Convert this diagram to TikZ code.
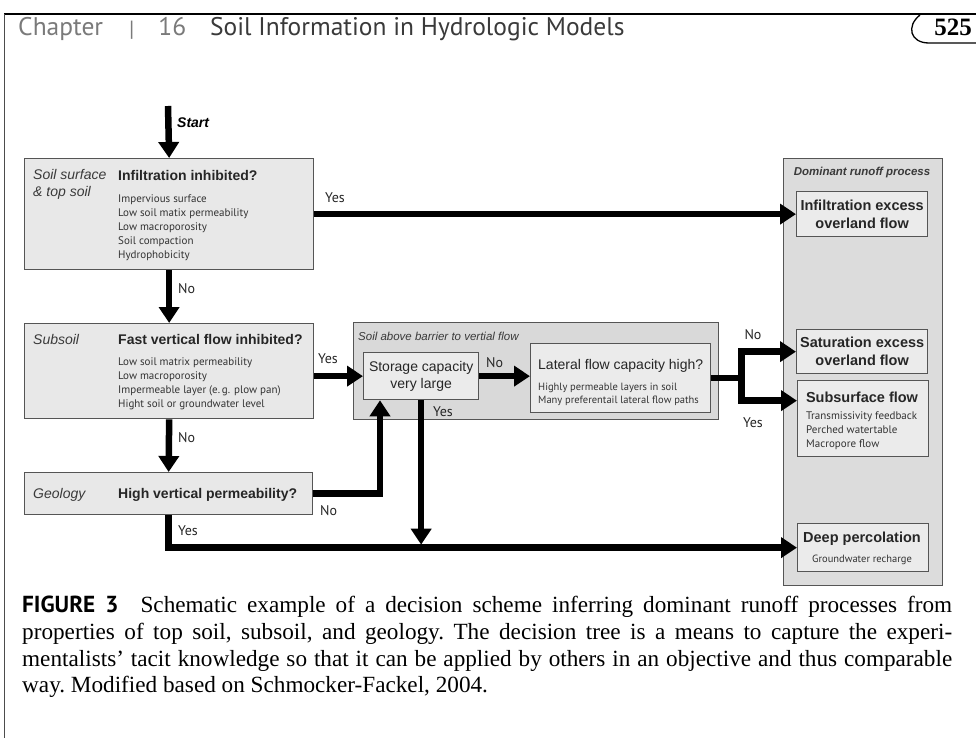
\documentclass[tikz,border=0pt]{standalone}
\usepackage{fontspec}
\setmainfont{Liberation Serif}
\newfontfamily\hdrfont{PT Sans}
\newfontfamily\arfont{Liberation Sans}
\newfontfamily\myfont{PT Sans}
\usetikzlibrary{arrows.meta}

\definecolor{bord}{HTML}{555555}
\definecolor{fillA}{HTML}{E8E8E8}
\definecolor{fillB}{HTML}{D9D9D9}
\definecolor{fillC}{HTML}{EBEBEB}
\definecolor{colfill}{HTML}{DCDCDC}
\definecolor{hgrey}{HTML}{7A7A7A}
\definecolor{hdark}{HTML}{3A3A3A}

\tikzset{
  box/.style={draw=bord, line width=1.3pt, inner sep=0pt, anchor=north west, fill=fillA},
  arr/.style={line width=6.5pt, -{Triangle[length=16pt,width=20pt]}},
  ln/.style={line width=6.5pt},
  cat/.style={inner sep=0pt, anchor=base west, font=\arfont\itshape\fontsize{14}{17}\selectfont, text=hdark, align=left},
  quest/.style={inner sep=0pt, anchor=base west, font=\arfont\bfseries\fontsize{14}{17}\selectfont, text=black!85},
  items/.style={inner sep=0pt, anchor=north west, font=\myfont\fontsize{11}{13.9}\selectfont, text=black!80, align=left},
  lbl/.style={inner sep=0pt, anchor=base west, font=\myfont\fontsize{14}{17}\selectfont, text=black!85},
  outbox/.style={box, fill=fillC, align=center, font=\arfont\bfseries\fontsize{14.5}{18}\selectfont, text=black!85},
}

\begin{document}
\begin{tikzpicture}[x=1pt,y=-1pt]
\useasboundingbox (0,0) rectangle (976,738);
\fill[white] (0,0) rectangle (976,738);

% running head
\draw[line width=2pt] (4,14) -- (976,14);
\draw[line width=0.9pt, black!70] (4,14) -- (4,738);
\node[inner sep=0pt, anchor=base west, font=\hdrfont\fontsize{25.5}{30}\selectfont] (head) at (18,36)
  {\textcolor{hgrey}{Chapter}\hspace{26pt}\textcolor{hgrey}{\raisebox{-1pt}{\fontsize{22}{26}\selectfont|}}\hspace{24pt}\textcolor{hgrey}{16}\hspace{24pt}\textcolor{hdark}{Soil Information in Hydrologic Models}};
\node[inner sep=0pt, anchor=base east, font=\bfseries\fontsize{25}{30}\selectfont] (page) at (972,36) {525};
\draw[line width=1.3pt] (920,15) .. controls (906,26) and (910,43) .. (929,43) -- (976,43);

% dominant runoff process column
\node[box, fill=colfill, minimum width=159pt, minimum height=427pt] (col) at (783,158) {};
\node[inner sep=0pt, font=\arfont\bfseries\itshape\fontsize{11.5}{14}\selectfont, text=hdark] (colt) at (862,173) {Dominant runoff process};
\node[outbox, minimum width=131pt, minimum height=45pt] (r1) at (796,191) {Infiltration excess\\overland flow};
\node[outbox, minimum width=131pt, minimum height=44pt] (sat) at (796,329) {Saturation excess\\overland flow};
\node[box, fill=fillC, minimum width=131pt, minimum height=76pt] (ss) at (797,380) {};
\node[inner sep=0pt, anchor=base, font=\arfont\bfseries\fontsize{14.5}{18}\selectfont, text=black!85] (sst) at (862,402) {Subsurface flow};
\node[items, font=\myfont\fontsize{11}{14}\selectfont] (ssi) at (806,411.5) {Transmissivity feedback\\Perched watertable\\Macropore flow};
\node[box, fill=fillC, minimum width=131pt, minimum height=48pt] (dp) at (797,523) {};
\node[inner sep=0pt, anchor=base, font=\arfont\bfseries\fontsize{14.5}{18}\selectfont, text=black!85] (dpt) at (862,542) {Deep percolation};
\node[inner sep=0pt, anchor=base, font=\myfont\fontsize{10.5}{14}\selectfont, text=black!80] (dpi) at (862,562) {Groundwater recharge};

% top soil
\node[box, minimum width=289pt, minimum height=111pt] (b1) at (24,158) {};
\node[cat, anchor=north west] (b1c) at (33,169.5) {Soil surface\\[-0.5pt]\& top soil};
\node[quest] (b1q) at (118,180) {Infiltration inhibited?};
\node[items] (b1i) at (118,195) {Impervious surface\\Low soil matix permeability\\Low macroporosity\\Soil compaction\\Hydrophobicity};

% subsoil
\node[box, minimum width=289pt, minimum height=95pt] (b2) at (24,323) {};
\node[cat] (b2c) at (33,344) {Subsoil};
\node[quest] (b2q) at (118,344) {Fast vertical flow inhibited?};
\node[items] (b2i) at (118,358) {Low soil matrix permeability\\Low macroporosity\\Impermeable layer (e.\,g. plow pan)\\Hight soil or groundwater level};

% geology
\node[box, minimum width=288pt, minimum height=42pt] (geo) at (24,472) {};
\node[cat] (geoc) at (33,498) {Geology};
\node[quest] (geoq) at (118,498) {High vertical permeability?};

% soil above barrier
\node[box, fill=fillB, minimum width=365pt, minimum height=97pt] (bar) at (353,322) {};
\node[inner sep=0pt, anchor=base west, font=\arfont\itshape\fontsize{11.5}{14}\selectfont, text=hdark] (bart) at (358,340) {Soil above barrier to vertial flow};
\node[box, fill=fillC, minimum width=115pt, minimum height=47pt, align=center, font=\arfont\fontsize{14}{17}\selectfont, text=black!85] (st) at (363,352) {Storage capacity\\very large};
\node[box, fill=fillC, minimum width=180pt, minimum height=69pt] (lf) at (530,343) {};
\node[inner sep=0pt, anchor=base west, font=\arfont\fontsize{14}{17}\selectfont, text=black!85] (lfq) at (538,369) {Lateral flow capacity high?};
\node[items, font=\myfont\fontsize{10.5}{13}\selectfont] (lfi) at (538,382.5) {Highly permeable layers in soil\\Many preferentail lateral flow paths};

% connectors
\coordinate (s0) at (168,106);
\draw[arr] (s0) -- (b1.north);
\node[inner sep=0pt, anchor=base west, font=\arfont\bfseries\itshape\fontsize{14}{17}\selectfont] (start) at (177,128) {Start};

\draw[arr] (b1.east) -- (b1.east -| r1.west);
\node[lbl] (y1) at (325,202) {Yes};
\draw[arr] (b1.south) -- (b2.north);
\node[lbl] (n1) at (178,293) {No};

\draw[arr] (b2.east |- st.west) -- (st.west);
\node[lbl] (y2) at (318,363) {Yes};
\draw[arr] (b2.south) -- (geo.north);
\node[lbl] (n2) at (178,442) {No};

\draw[arr] (geo.east) -| ([xshift=17pt]st.south west);
\node[lbl] (n3) at (320,515) {No};
\draw[arr] (geo.south) |- (dp.west);
\node[lbl] (y3) at (178,535) {Yes};

\coordinate (j) at (st.south |- dp.west);
\draw[arr] (st.south) -- ([yshift=3pt]j);
\node[lbl] (y4) at (433,416) {Yes};

\draw[arr] (st.east) -- (st.east -| lf.west);
\node[lbl] (n4) at (486,367) {No};

\coordinate (sp) at ([xshift=30pt]lf.east);
\draw[ln] (lf.east) -- (sp);
\draw[arr] (sp) |- (sat.west);
\draw[arr] (sp) |- ([yshift=18pt]ss.west);
\node[lbl, anchor=center] (n5) at (753,335) {No};
\node[lbl, anchor=center] (y5) at (753,423) {Yes};

% caption
\node[inner sep=0pt, anchor=north west, font=\fontsize{23.2}{26.7}\selectfont] (cap) at (22,596) {\vbox{\frenchspacing\baselineskip=26.7pt
  \hbox to 930pt{{\hdrfont\bfseries FIGURE 3}\hspace{22pt}Schematic example of a decision scheme inferring dominant runoff processes from}
  \hbox to 930pt{properties of top soil, subsoil, and geology. The decision tree is a means to capture the experi-}
  \hbox to 930pt{mentalists' tacit knowledge so that it can be applied by others in an objective and thus comparable}
  \hbox{way. Modified based on Schmocker-Fackel, 2004.}}};
\end{tikzpicture}
\end{document}
